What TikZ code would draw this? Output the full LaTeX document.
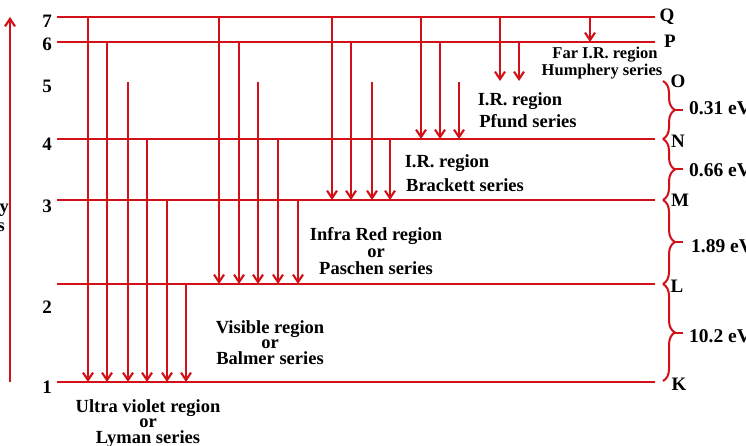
\documentclass[tikz,border=0pt]{standalone}
\usepackage{fontspec}
\setmainfont{Liberation Serif}
\usetikzlibrary{arrows.meta,decorations.pathreplacing}
\definecolor{lred}{RGB}{210,16,24}
\begin{document}
\begin{tikzpicture}[x=1pt,y=-1pt,
  lvl/.style={draw=lred,line width=2.1pt},
  trans/.style={draw=lred,line width=2.1pt,-{Straight Barb[length=7.5pt,width=10pt]}},
  txt/.style={font=\bfseries\fontsize{18.5}{20}\selectfont,inner sep=0pt,anchor=base},
  blk/.style={font=\bfseries\fontsize{18.5}{15.5}\selectfont,inner sep=0pt,anchor=north,align=center},
  smalltxt/.style={font=\bfseries\fontsize{16.5}{18}\selectfont,inner sep=0pt,anchor=base},
  num/.style={font=\bfseries\fontsize{19}{20}\selectfont,inner sep=0pt,anchor=base},
  shell/.style={font=\bfseries\fontsize{19}{20}\selectfont,inner sep=0pt,anchor=base},
  ev/.style={font=\bfseries\fontsize{19.5}{20}\selectfont,inner sep=0pt,anchor=base west},
  brc/.style={draw=lred,line width=2pt,decorate,decoration={brace,amplitude=12pt}},
  tick/.style={draw=lred,line width=2pt}]
\useasboundingbox (0,0) rectangle (746,446);
\clip (0,0) rectangle (746,446);
\fill[white] (0,0) rectangle (746,446);

% energy levels
\foreach \n/\y in {7/17,6/42,4/139,3/200,2/284,1/382}{
  \coordinate (L\n a) at (57,\y);
  \coordinate (L\n b) at (655,\y);
  \draw[lvl] (L\n a) -- (L\n b);
}

% transitions
\foreach \x/\a/\b [count=\i] in {
  88/17/382,107/42/382,128/82/382,147/139/382,167/200/382,186/284/382,
  219/17/284,239/42/284,258/82/284,278/139/284,298/200/284,
  332/17/200,351/42/200,372/82/200,390/139/200,
  421/17/139,440/42/139,459/82/139,
  500/17/81,519/42/81,
  590/17/42}{
  \coordinate (t\i s) at (\x,\a);
  \coordinate (t\i e) at (\x,\b);
  \draw[trans] (t\i s) -- (t\i e);
}

% left arrow
\coordinate (up0) at (10,382);
\coordinate (up1) at (10,17);
\draw[trans] (up0) -- (up1);
\node[txt,anchor=base east] (en1) at (9,213) {Energy};
\node[txt,anchor=base east] (en2) at (5,232) {levels};

% level numbers
\foreach \n/\y in {7/28,6/51,5/93,4/151,3/213,2/313,1/393}{
  \node[num] (n\n) at (47,\y) {\n};
}

% shell letters
\node[shell] (sQ) at (667,22) {Q};
\node[shell] (sP) at (670,48) {P};
\node[shell] (sO) at (678,88) {O};
\node[shell] (sN) at (678,148) {N};
\node[shell] (sM) at (680,207) {M};
\node[shell] (sL) at (677,292) {L};
\node[shell] (sK) at (679,390) {K};

% braces
\foreach \a/\b/\m [count=\i] in {81/139/110,139/200/169.5,200/284/242,284/381/332.5}{
  \coordinate (b\i t) at (663,\a);
  \coordinate (b\i b) at (663,\b);
  \draw[brc] (b\i t) -- (b\i b);
  \coordinate (k\i a) at (674,\m);
  \coordinate (k\i b) at (683,\m);
  \draw[tick] (k\i a) -- (k\i b);
}
\node[ev] (e1) at (689,115) {0.31 eV};
\node[ev] (e2) at (689,177) {0.66 eV};
\node[ev] (e3) at (691,252) {1.89 eV};
\node[ev] (e4) at (689,342) {10.2 eV};

% series labels
\node[smalltxt] (far1) at (605,59) {Far I.R. region};
\node[smalltxt] (far2) at (602,76) {Humphery series};
\node[txt] (pf1) at (520,106) {I.R. region};
\node[txt] (pf2) at (528,128) {Pfund series};
\node[txt] (br1) at (447,168) {I.R. region};
\node[txt] (br2) at (465,192) {Brackett series};
\node[blk,font=\bfseries\fontsize{18.5}{17}\selectfont] (pa) at (376,227) {Infra Red region\\or\\Paschen series};
\node[blk] (ba) at (270,320) {Visible region\\or\\Balmer series};
\node[blk] (ly) at (148,399) {Ultra violet region\\or\\Lyman series};
\end{tikzpicture}
\end{document}
